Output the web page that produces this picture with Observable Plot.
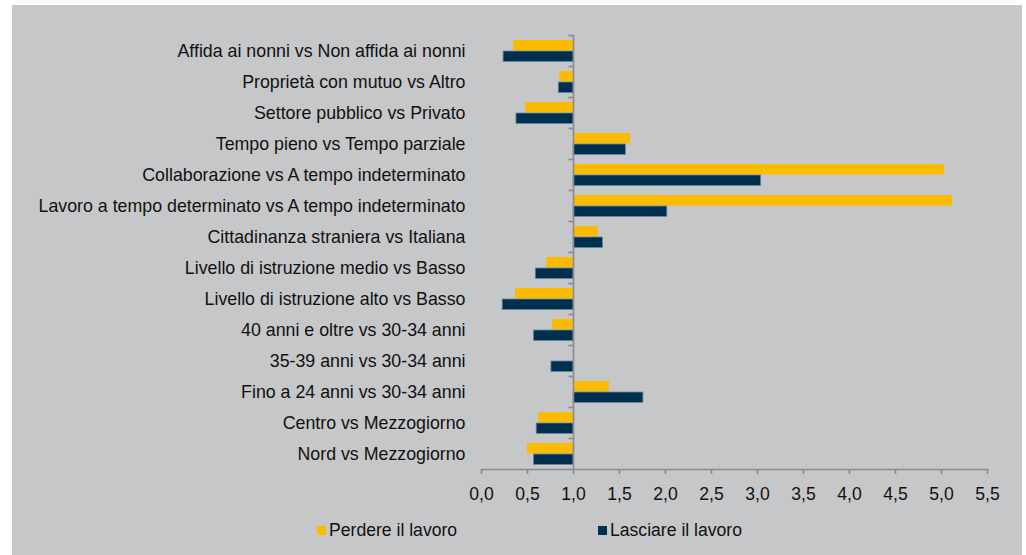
<!DOCTYPE html>
<html>
<head>
<meta charset="utf-8">
<script src="https://cdn.jsdelivr.net/npm/d3@7"></script>
<script src="https://cdn.jsdelivr.net/npm/@observablehq/plot@0.6"></script>
<style>
  html, body { margin: 0; padding: 0; background: #ffffff; }
  #panel { position: absolute; left: 12px; top: 5px; width: 1010px; height: 550px; background: #c6c7c9; font-family: "Liberation Sans", Arial, sans-serif; }
  #chart { position: absolute; left: 0; top: 0; }
  .leg { position: absolute; top: 515px; display: flex; align-items: center; font-size: 17.6px; color: #111; line-height: 20px; }
  .sw { width: 9px; height: 9px; margin-right: 3px; }
</style>
</head>
<body>
<div id="panel">
  <div id="chart"></div>
  <div class="leg" style="left:305px"><span class="sw" style="background:#fbbb00"></span>Perdere il lavoro</div>
  <div class="leg" style="left:586px"><span class="sw" style="background:#00304f"></span>Lasciare il lavoro</div>
</div>
<script>
const categories = [
  "Affida ai nonni vs Non affida ai nonni",
  "Proprietà con mutuo vs Altro",
  "Settore pubblico vs Privato",
  "Tempo pieno vs Tempo parziale",
  "Collaborazione vs A tempo indeterminato",
  "Lavoro a tempo determinato vs A tempo indeterminato",
  "Cittadinanza straniera vs Italiana",
  "Livello di istruzione medio vs Basso",
  "Livello di istruzione alto vs Basso",
  "40 anni e oltre vs 30-34 anni",
  "35-39 anni vs 30-34 anni",
  "Fino a 24 anni vs 30-34 anni",
  "Centro vs Mezzogiorno",
  "Nord vs Mezzogiorno"
];
const perdere  = [0.35, 0.85, 0.48, 1.62, 5.03, 5.12, 1.27, 0.71, 0.37, 0.77, null, 1.39, 0.62, 0.50];
const lasciare = [0.24, 0.84, 0.38, 1.57, 3.04, 2.02, 1.32, 0.59, 0.23, 0.57, 0.76, 1.76, 0.60, 0.57];
const seriesNames = ["Perdere il lavoro", "Lasciare il lavoro"];
const xTicks = [0, 0.5, 1, 1.5, 2, 2.5, 3, 3.5, 4, 4.5, 5, 5.5];
const BASELINE = 1;

const yellowData = categories.map((c, i) => ({cat: c, value: perdere[i], series: seriesNames[0]})).filter(d => d.value != null);
const darkData = categories.map((c, i) => ({cat: c, value: lasciare[i], series: seriesNames[1]})).filter(d => d.value != null);

const plot = Plot.plot({
  width: 1010,
  height: 505,
  marginLeft: 469,
  marginRight: 35,
  marginTop: 30,
  marginBottom: 41,
  style: {background: "transparent", fontFamily: "'Liberation Sans', Arial, sans-serif", fontSize: "17.8px", color: "#111", overflow: "visible"},
  x: {domain: [0, 5.5], label: null},
  y: {domain: categories, padding: 0, label: null},
  marks: [
    Plot.barX(yellowData, {y: "cat", x1: BASELINE, x2: "value", fill: "#fbbb00", insetTop: 5, insetBottom: 15.5}),
    Plot.barX(darkData, {y: "cat", x1: BASELINE, x2: "value", fill: "#00304f", stroke: "#6d8598", strokeWidth: 0.8, insetTop: 16, insetBottom: 4.5}),
    Plot.ruleX([BASELINE], {stroke: "#8a8b8d", strokeWidth: 1.6}),
    Plot.ruleY(categories, {y: d => d, x1: BASELINE, x2: BASELINE, insetLeft: -4.5, dy: -15.5, stroke: "#8a8b8d", strokeWidth: 1.6}),
    Plot.frame({anchor: "bottom", stroke: "#8a8b8d", strokeWidth: 1.6}),
    Plot.axisX({ticks: xTicks, tickFormat: d => d.toFixed(1).replace(".", ","), tickSize: 5, tickPadding: 13, stroke: "#8a8b8d", strokeWidth: 1.6, fill: "#111", fontSize: 17.6, label: null}),
    Plot.axisY({tickSize: 0, tickPadding: 16, fill: "#111", fontSize: 17.8, textOverflow: null, label: null})
  ]
});
document.getElementById("chart").appendChild(plot);
</script>
</body>
</html>
